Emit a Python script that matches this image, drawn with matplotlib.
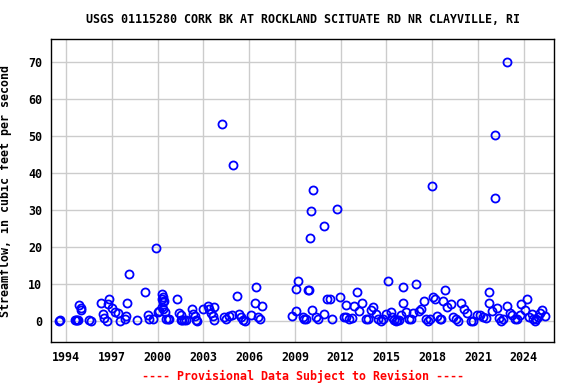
import matplotlib
matplotlib.use("Agg")
import matplotlib.pyplot as plt

years = [
    1993.53, 1993.58, 1994.55, 1994.62, 1994.7, 1994.8, 1994.87, 1994.95, 1994.97,
    1995.48, 1995.6, 1996.25, 1996.4, 1996.5, 1996.66, 1996.8, 1996.75,
    1997.0, 1997.17, 1997.38, 1997.5, 1997.9, 1997.86, 1998.0, 1998.15,
    1998.65, 1999.15, 1999.35, 1999.4, 1999.67, 1999.91, 2000.03, 2000.1,
    2000.3, 2000.33, 2000.3, 2000.35, 2000.42, 2000.3, 2000.38, 2000.45,
    2000.55, 2000.66, 2000.77, 2001.25, 2001.42, 2001.53,
    2001.5, 2001.62, 2001.74, 2001.86, 2002.23, 2002.34, 2002.45, 2002.5, 2002.55,
    2002.95, 2003.27, 2003.38, 2003.5, 2003.6, 2003.67, 2003.71,
    2004.24, 2004.37, 2004.48, 2004.7, 2004.87, 2004.96, 2005.17,
    2005.35, 2005.46, 2005.57, 2005.72, 2006.15, 2006.35, 2006.48, 2006.61, 2006.7, 2006.87,
    2008.84, 2009.1, 2009.1, 2009.23, 2009.5, 2009.6, 2009.72, 2009.89,
    2010.0, 2010.08, 2010.2, 2009.95, 2010.15, 2010.37, 2010.54, 2010.92, 2010.92,
    2011.13, 2011.29, 2011.46, 2011.79, 2011.94, 2012.23, 2012.34, 2012.38,
    2012.55, 2012.77, 2012.9, 2013.1, 2013.2, 2013.42, 2013.64, 2013.8,
    2014.02, 2014.15, 2014.35, 2014.45, 2014.63, 2014.78, 2015.0, 2015.13,
    2015.32, 2015.39, 2015.5, 2015.61, 2015.72, 2015.83, 2015.98, 2016.11, 2016.11,
    2016.31, 2016.48, 2016.63, 2016.77, 2016.96, 2017.14, 2017.25, 2017.46,
    2017.57, 2017.72, 2017.84, 2018.0, 2018.05, 2018.18, 2018.33, 2018.49, 2018.6,
    2018.7, 2018.84, 2018.99, 2019.25, 2019.36, 2019.54, 2019.69, 2019.91,
    2020.08, 2020.3, 2020.52, 2020.68, 2020.95, 2021.17, 2021.32, 2021.5,
    2021.76, 2021.72, 2021.92, 2022.11, 2022.11, 2022.25, 2022.38, 2022.53, 2022.64,
    2022.93, 2022.93, 2023.09, 2023.26, 2023.42, 2023.59, 2023.73, 2023.84,
    2024.06, 2024.23, 2024.35, 2024.52, 2024.63, 2024.74, 2024.83, 2024.96,
    2025.05, 2025.22, 2025.38,
]

# streamflow, cubic feet per second
flows = [
    0.0, 0.1, 0.1, 0.1, 0.2, 0.2, 4.3, 3.4, 3.0,
    0.2, 0.0, 4.8, 1.8, 0.7, 0.0, 5.9, 4.5,
    3.4, 2.5, 2.2, 0.0, 1.4, 0.4, 4.8, 12.6,
    0.2, 7.8, 1.6, 0.4, 0.4, 19.6, 2.5, 2.7,
    7.2, 6.5, 5.8, 5.1, 5.4, 3.6, 3.2, 2.5,
    0.4, 0.4, 0.4, 5.9, 2.2, 1.6,
    0.3, 0.3, 0.3, 0.3, 3.2, 1.8, 1.4, 0.3, 0.0,
    3.2, 4.0, 3.1, 2.2, 1.4, 0.3, 3.6,
    53.2, 1.1, 0.4, 1.4, 1.6, 42.1, 6.6,
    1.8, 0.9, 0.3, 0.0, 1.6, 4.8, 9.1, 1.1, 0.4, 4.0,
    1.3, 2.7, 8.6, 10.8, 0.9, 0.4, 0.4, 8.3,
    22.4, 29.6, 35.3, 8.3, 2.9, 0.9, 0.4, 25.6, 1.8,
    5.9, 5.9, 0.5, 30.2, 6.5, 1.1, 1.1, 4.3,
    0.4, 0.7, 4.0, 7.8, 2.7, 4.8, 0.4, 0.4,
    2.9, 3.8, 1.8, 0.4, 0.0, 0.4, 1.8, 10.8,
    2.4, 1.1, 0.3, 0.0, 0.3, 0.3, 1.6, 4.7, 9.1,
    2.4, 0.4, 0.4, 2.0, 9.9, 2.7, 3.2, 5.4,
    0.4, 0.0, 0.4, 36.4, 6.3, 5.8, 1.3, 0.4, 0.4,
    5.4, 8.3, 3.8, 4.5, 0.9, 0.4, 0.0, 4.8,
    3.2, 2.0, 0.0, 0.0, 1.6, 1.6, 1.1, 0.7,
    7.8, 4.8, 2.7, 50.2, 33.2, 3.4, 0.7, 0.0, 0.4,
    69.9, 4.0, 2.2, 1.6, 0.4, 0.4, 1.6, 4.5,
    2.9, 5.9, 1.1, 1.8, 0.4, 0.0, 0.5, 1.1,
    2.0, 2.9, 1.4,
]

tick_years = [1994, 1997, 2000, 2003, 2006, 2009, 2012, 2015, 2018, 2021, 2024]
tick_flows = [0, 10, 20, 30, 40, 50, 60, 70]

title = "USGS 01115280 CORK BK AT ROCKLAND SCITUATE RD NR CLAYVILLE, RI"
footer = "---- Provisional Data Subject to Revision ----"

mono = "DejaVu Sans Mono"
fs = 8.4

fig = plt.figure(figsize=(5.76, 3.84), dpi=100)
ax = fig.add_axes([0.0885, 0.1086, 0.8735, 0.7891])

ax.plot(years, flows, linestyle="none", marker="o", markersize=5.8,
        markerfacecolor="none", markeredgecolor="#0000ff", markeredgewidth=1.3,
        zorder=3)

ax.set_xlim(1993.0, 2026.0)
ax.set_ylim(-5.8, 76.0)
ax.set_xticks(tick_years)
ax.set_yticks(tick_flows)
ax.grid(True, color="#cccccc", linewidth=1.0)
ax.set_axisbelow(True)
ax.tick_params(length=0, pad=6.5, labelsize=fs)
for lab in ax.get_xticklabels() + ax.get_yticklabels():
    lab.set_fontfamily(mono)
    lab.set_fontweight("bold")
for sp in ax.spines.values():
    sp.set_linewidth(1.0)
    sp.set_color("black")

ax.set_ylabel("Streamflow, in cubic feet per second", fontsize=fs,
              fontfamily=mono, fontweight="bold")
ax.yaxis.set_label_coords(-0.077, 0.5)

# title and footer are centred over the plot area, not the figure
ax.text(0.5, 1.0 + 20 / 303, title, transform=ax.transAxes, ha="center",
        va="center", fontsize=fs, fontfamily=mono, fontweight="bold")
ax.text(0.5, -34 / 303, footer, transform=ax.transAxes, ha="center",
        va="center", fontsize=fs, fontfamily=mono, fontweight="bold",
        color="red")

fig.savefig("out.png", dpi=100)
